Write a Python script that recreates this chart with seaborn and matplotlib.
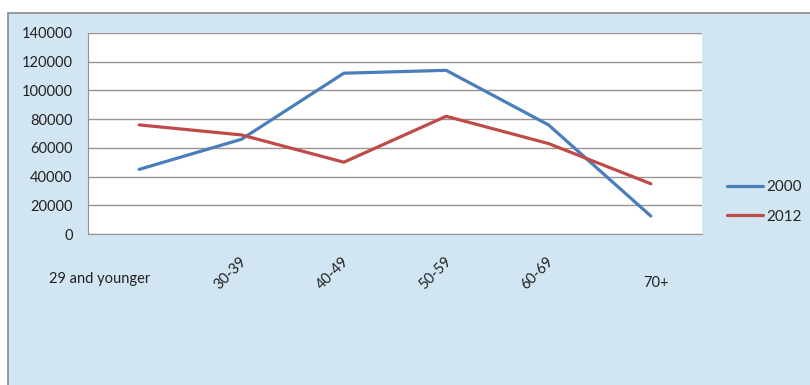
import numpy as np
import pandas as pd
import matplotlib
matplotlib.use("Agg")
import matplotlib.pyplot as plt
import matplotlib.transforms as mtransforms
from matplotlib.patches import Rectangle
import seaborn as sns

# Age groups and counts per survey year
categories = ["29 and younger", "30-39", "40-49", "50-59", "60-69", "70+"]
values_2000 = [45000, 66000, 112000, 114000, 76000, 12500]
values_2012 = [76000, 69000, 50000, 82000, 63000, 35000]
years = ["2000", "2012"]
y_ticks = [0, 20000, 40000, 60000, 80000, 100000, 120000, 140000]

sns.set_theme(style="white")
plt.rcParams["font.family"] = ["Lato", "DejaVu Sans"]

df = pd.DataFrame({
    "pos": list(range(len(categories))) * 2,
    "value": values_2000 + values_2012,
    "year": [years[0]] * len(categories) + [years[1]] * len(categories),
})

bg = "#d2e5f3"
fig = plt.figure(figsize=(8.1, 3.85), dpi=100)
fig.patch.set_facecolor("white")

# outer chart frame with pale blue fill, behind everything
bg_ax = fig.add_axes([0, 0, 1, 1], zorder=-5)
bg_ax.set_axis_off()
bg_ax.set_xlim(0, 810)
bg_ax.set_ylim(385, 0)
bg_ax.add_patch(Rectangle((8, 13), 820, 390, facecolor=bg,
                          edgecolor="#8a8a8a", linewidth=1.2))

ax = fig.add_axes([88 / 810, 1 - 234 / 385, (702 - 88) / 810, (234 - 33) / 385],
                  zorder=1)
ax.set_facecolor("white")

palette = {"2000": "#4a7ebb", "2012": "#be4b48"}
sns.lineplot(data=df, x="pos", y="value", hue="year", palette=palette,
             linewidth=2.3, ax=ax, legend=False, zorder=3)

ax.set_xlim(-0.5, len(categories) - 0.5)
ax.set_ylim(0, 140000)
ax.set_yticks(y_ticks)
ax.set_yticklabels([str(v) for v in y_ticks], fontsize=10.5, color="#222222")
ax.yaxis.grid(True, color="#9a9391", linewidth=1.0)
ax.set_axisbelow(True)

# category boundary ticks along the bottom axis
ax.set_xticks(np.arange(-0.5, len(categories), 1.0))
ax.set_xticklabels([])
ax.tick_params(axis="x", length=5, width=0.8, color="#9a9391", direction="out")
ax.tick_params(axis="y", length=5, width=0.8, color="#9a9391", direction="out", pad=6)
ax.set_xlabel("")
ax.set_ylabel("")

for side in ["top", "right"]:
    ax.spines[side].set_visible(False)
ax.spines["left"].set_color("#9a9391")
ax.spines["bottom"].set_color("#9a9391")
ax.spines["left"].set_linewidth(0.8)
ax.spines["bottom"].set_linewidth(0.8)

# category labels: ends horizontal, middle ones slanted
trans = mtransforms.blended_transform_factory(ax.transData, ax.transAxes)
for i, lab in enumerate(categories):
    if i == 0:
        off = mtransforms.offset_copy(trans, fig=fig, x=-40, y=-45, units="dots")
        ax.text(i, 0, lab, transform=off, ha="center", va="center",
                fontsize=10.5, color="#222222")
    elif i == len(categories) - 1:
        off = mtransforms.offset_copy(trans, fig=fig, x=5, y=-49, units="dots")
        ax.text(i, 0, lab, transform=off, ha="center", va="center",
                fontsize=10.5, color="#222222")
    else:
        off = mtransforms.offset_copy(trans, fig=fig, x=-2, y=-20, units="dots")
        ax.text(i, 0, lab, transform=off, ha="right", va="top",
                rotation=45, rotation_mode="anchor", fontsize=10.5,
                color="#222222")

# legend on the right
handles = [plt.Line2D([], [], color=palette[y], linewidth=2.3) for y in years]
fig.legend(handles, years, loc="center left",
           bbox_to_anchor=(727 / 810, 1 - 202 / 385), frameon=False,
           fontsize=11, handlelength=2.35, handletextpad=0.2,
           labelspacing=1.0, borderpad=0, borderaxespad=0)

fig.savefig("out.png", dpi=100, facecolor=fig.get_facecolor())
